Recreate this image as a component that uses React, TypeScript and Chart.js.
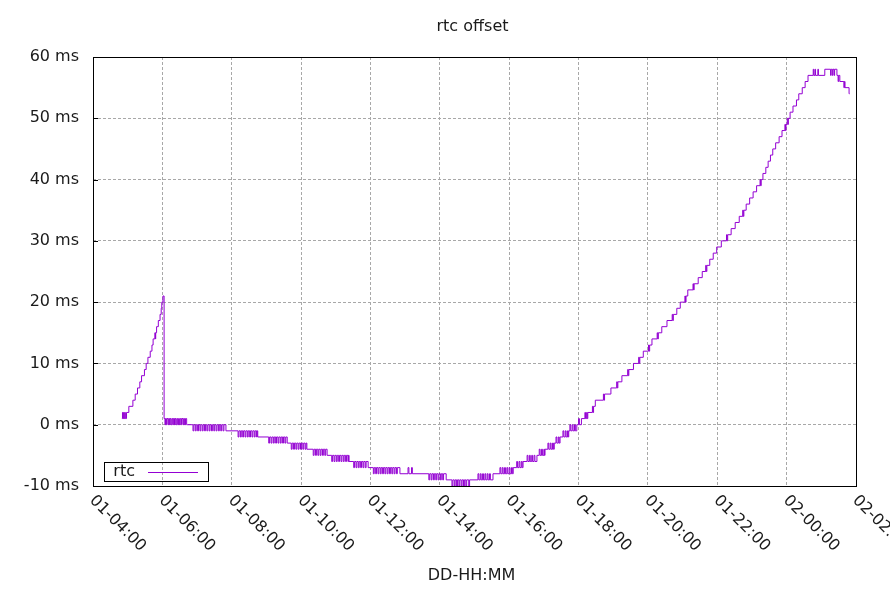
import React, { useEffect, useRef } from "react";
import { Chart, registerables } from "chart.js";

Chart.register(...registerables);

const TITLE = "rtc offset";
const X_TITLE = "DD-HH:MM";
const SERIES_LABEL = "rtc";
const SERIES_COLOR = "#9400d3";
const FONT = "DejaVu Sans";
const TEXT_COLOR = "#1a1a1a";

// x values are minutes after 01-04:00
const xTickMinutes = [0, 120, 240, 360, 480, 600, 720, 840, 960, 1080, 1200, 1320];
const xTickLabels = [
  "01-04:00", "01-06:00", "01-08:00", "01-10:00", "01-12:00", "01-14:00",
  "01-16:00", "01-18:00", "01-20:00", "01-22:00", "02-00:00", "02-02:00",
];
const yMin = -10;
const yMax = 60;
const yStep = 10;

// [minute, offset ms]
const riseSamples: [number, number][] = [
  [50, 1], [51, 2], [52, 1], [53, 2], [54, 1], [55, 2], [56, 1], [58, 2], [62, 3], [69, 4],
  [73, 5], [77, 6], [81, 7], [84, 8], [89, 9], [92, 10], [95, 11], [99, 12], [102, 13],
  [104, 14], [107, 15], [108, 14], [108.5, 15], [110, 16], [113, 17], [116, 18], [118, 19],
  [119, 20], [121, 21],
];

const plateauSamples: [number, number][] = [
  [123, 1], [124.5, 0], [125.5, 1], [127, 0], [128, 1], [130, 0], [131, 1], [132.5, 0],
  [133.5, 1], [135, 0], [136.5, 1], [138, 0], [139, 1], [141, 0], [142, 1], [143.5, 0],
  [145, 1], [146.5, 0], [148, 1], [149.5, 0], [151, 1], [153, 0], [154, 1], [156, 0],
  [157, 1], [158.5, 0], [160, 1], [162, 0],
];

const declineSamples: [number, number][] = [
  [163, 0],
  [173, -1], [174.5, 0], [177, -1], [178.5, 0], [181, -1], [182.5, 0], [185, -1], [186.5, 0],
  [189, -1], [190.5, 0], [193, -1], [194.5, 0], [197, -1], [198.5, 0], [201, -1], [202.5, 0],
  [205, -1], [206.5, 0], [209, -1], [210.5, 0], [213, -1], [214.5, 0], [217, -1], [218.5, 0],
  [221, -1], [222.5, 0], [225, -1], [226.5, 0], [230, -1],
  [251, -2], [252.5, -1], [255, -2], [256.5, -1], [259, -2], [260.5, -1], [263, -2], [264.5, -1],
  [267, -2], [268.5, -1], [271, -2], [272.5, -1], [275, -2], [276.5, -1], [279, -2], [280.5, -1],
  [283, -2], [284, -1], [285, -2],
  [304, -3], [305.5, -2], [308, -3], [309.5, -2], [312, -3], [313.5, -2], [316, -3], [317.5, -2],
  [320, -3], [321.5, -2], [324, -3], [325.5, -2], [328, -3], [329.5, -2], [332, -3], [333.5, -2],
  [336, -3],
  [343, -4], [344.5, -3], [347, -4], [348.5, -3], [351, -4], [352.5, -3], [355, -4], [356.5, -3],
  [359, -4], [360.5, -3], [363, -4], [364.5, -3], [367, -4], [368.5, -3], [370, -4],
  [381, -5], [382.5, -4], [385, -5], [386.5, -4], [389, -5], [390.5, -4], [393, -5], [394.5, -4],
  [397, -5], [398.5, -4], [401, -5], [402.5, -4], [405, -5],
  [413, -6], [414.5, -5], [417, -6], [418.5, -5], [421, -6], [422.5, -5], [425, -6], [426.5, -5],
  [429, -6], [430.5, -5], [433, -6], [434.5, -5], [437, -6], [438.5, -5], [441, -6], [442, -5],
  [443, -6],
  [451, -7], [452.5, -6], [455, -7], [456.5, -6], [459, -7], [460.5, -6], [463, -7], [464.5, -6],
  [467, -7], [468.5, -6], [471, -7], [472.5, -6], [476, -7],
  [485, -8], [486.5, -7], [489, -8], [490.5, -7], [493, -8], [494.5, -7], [497, -8], [498.5, -7],
  [501, -8], [502.5, -7], [505, -8], [506.5, -7], [509, -8], [510.5, -7], [513, -8], [514.5, -7],
  [517, -8], [518.5, -7], [521, -8], [522.5, -7], [525, -8], [526.5, -7], [531, -8],
  [545, -7], [546.5, -8], [551, -7], [552.5, -8],
  [581, -9], [582.5, -8], [585, -9], [586.5, -8], [589, -9], [590.5, -8], [593, -9], [594.5, -8],
  [597, -9], [598.5, -8], [601, -9], [602.5, -8], [605, -9], [606.5, -8], [611, -9],
  [621, -10], [622.5, -9], [625, -10], [626.5, -9], [629, -10], [630.5, -9], [633, -10],
  [634.5, -9], [637, -10], [638.5, -9], [641, -10], [642.5, -9], [645, -10], [646.5, -9],
  [650, -10], [651.5, -9],
  [666, -8], [667.5, -9], [670, -8], [671.5, -9], [674, -8], [675.5, -9], [678, -8], [679.5, -9],
  [682, -8], [683.5, -9], [686, -8], [687.5, -9], [692, -8],
];

const climbSamples: [number, number][] = [
  [704, -7], [705.5, -8], [708, -7], [709.5, -8], [712, -7], [713.5, -8], [716, -7], [717.5, -8],
  [720, -7], [721.5, -8], [724, -7], [725.5, -8], [727, -7],
  [733, -6], [734.5, -7], [737, -6], [738.5, -7], [741, -6], [742.5, -7], [744, -6],
  [751, -5], [752.5, -6], [755, -5], [756.5, -6], [759, -5], [760.5, -6], [763, -5], [764.5, -6],
  [768, -5],
  [772, -4], [773.5, -5], [776, -4], [777.5, -5], [780, -4], [781, -5], [782, -4],
  [787, -3], [788.5, -4], [791, -3], [792.5, -4], [795, -3], [796.5, -4], [798, -3],
  [801, -2], [802.5, -3], [805, -2], [806.5, -3], [808, -2],
  [813, -1], [814.5, -2], [817, -1], [818.5, -2], [821, -1], [822, -2], [823, -1],
  [825, 0], [826.5, -1], [829, 0], [830.5, -1], [833, 0], [834.5, -1], [837, 0],
  [840, 1], [841.5, 0], [845, 1],
  [851, 2], [852, 1], [854, 2], [855, 1], [856, 2],
  [864, 3], [865, 2], [866, 3], [869, 4], [883, 5], [884, 4], [885, 5], [896, 6], [906, 7],
  [907, 6], [908, 7], [915, 8], [925, 9], [926, 8], [927, 9], [935, 10], [944, 11], [945, 10],
  [946, 11], [952, 12], [961, 13], [962, 12], [963, 13], [967, 14], [976, 15], [977, 14],
  [978, 15], [984, 16], [993, 17], [1002, 18], [1003, 17], [1004, 18], [1010, 19], [1016, 20],
  [1024, 21], [1025, 20], [1026, 21], [1029, 22], [1038, 23], [1039, 22], [1040, 23],
  [1047, 24], [1054, 25], [1060, 26], [1061, 25], [1062, 26], [1067, 27], [1073, 28],
  [1079, 29], [1087, 30], [1096, 31], [1097, 30], [1098, 31], [1104, 32], [1111, 33],
  [1118, 34], [1124, 35], [1125, 34], [1126, 35], [1130, 36], [1136, 37], [1142, 38],
  [1148, 39], [1154, 40], [1155, 39], [1156, 40], [1159, 41], [1164, 42], [1168, 43],
  [1172, 44], [1176, 45], [1181, 46], [1187, 47], [1192, 48], [1197, 49], [1198, 48],
  [1199, 49], [1201, 50], [1202, 49], [1203, 50], [1206, 51], [1211, 52], [1217, 53],
  [1221, 54], [1227, 55], [1232, 56], [1237, 57],
];

const peakSamples: [number, number][] = [
  [1246, 58], [1247, 57], [1249, 58], [1250, 57], [1254, 58], [1255, 57], [1266, 58],
  [1276, 57], [1277, 58], [1279, 57], [1280, 58], [1282, 57], [1283, 58], [1287, 57],
  [1289, 56], [1290, 57], [1292, 56], [1299, 55], [1300, 56], [1301, 55], [1308, 54],
  [1309, 54],
];

export default function App() {
  const ref = useRef<HTMLCanvasElement>(null);

  useEffect(() => {
    if (!ref.current) return;
    const points = [
      ...riseSamples, ...plateauSamples, ...declineSamples, ...climbSamples, ...peakSamples,
    ].map(([x, y]) => ({ x, y }));

    const decor = {
      id: "decor",
      beforeDatasetsDraw(chart: any) {
        const { ctx, chartArea: a, scales } = chart;
        ctx.save();
        ctx.strokeStyle = "#000";
        ctx.lineWidth = 1;
        ctx.strokeRect(
          Math.round(a.left) + 0.5, Math.round(a.top) + 0.5,
          Math.round(a.right - a.left), Math.round(a.bottom - a.top)
        );
        ctx.beginPath();
        for (let v = yMin; v <= yMax; v += yStep) {
          const py = Math.round(scales.y.getPixelForValue(v)) + 0.5;
          ctx.moveTo(a.left, py);
          ctx.lineTo(a.left + 5, py);
        }
        ctx.stroke();
        ctx.restore();
      },
      afterDraw(chart: any) {
        const { ctx, chartArea: a, scales } = chart;
        const cx = (a.left + a.right) / 2;
        ctx.save();
        ctx.fillStyle = TEXT_COLOR;
        ctx.font = `16px "${FONT}"`;
        ctx.textAlign = "center";
        ctx.textBaseline = "middle";
        ctx.fillText(TITLE, cx - 2, 27);
        ctx.fillText(X_TITLE, cx - 3, 576);

        xTickMinutes.forEach((m, i) => {
          const px = scales.x.getPixelForValue(m);
          ctx.save();
          ctx.translate(px - 1, a.bottom + 12);
          ctx.rotate(Math.PI / 4);
          ctx.textAlign = "left";
          ctx.textBaseline = "middle";
          ctx.fillText(xTickLabels[i], 0, 0);
          ctx.restore();
        });

        // key box
        ctx.strokeStyle = "#000";
        ctx.lineWidth = 1;
        ctx.strokeRect(104.5, 462.5, 104, 19);
        ctx.textAlign = "right";
        ctx.fillText(SERIES_LABEL, 135, 472);
        ctx.strokeStyle = chart.data.datasets[0].borderColor;
        ctx.beginPath();
        ctx.moveTo(148, 472.5);
        ctx.lineTo(198, 472.5);
        ctx.stroke();
        ctx.restore();
      },
    };

    const chart = new Chart(ref.current, {
      type: "line",
      data: {
        datasets: [
          {
            label: SERIES_LABEL,
            data: points,
            borderColor: SERIES_COLOR,
            borderWidth: 1,
            pointRadius: 0,
            stepped: true,
            fill: false,
          },
        ],
      },
      options: {
        animation: false,
        responsive: false,
        layout: { padding: { top: 57, right: 34, bottom: 0, left: 0 } },
        plugins: {
          legend: { display: false },
          title: { display: false },
          tooltip: { enabled: false },
        },
        scales: {
          x: {
            type: "linear",
            min: 0,
            max: 1320,
            ticks: { stepSize: 120, display: false },
            grid: { color: "#a8a8a8", lineWidth: 1, drawTicks: false },
            border: { display: false, dash: [3, 2] },
            afterFit: (s: any) => { s.height = 104; },
          },
          y: {
            min: yMin,
            max: yMax,
            ticks: {
              stepSize: yStep,
              padding: 14,
              color: TEXT_COLOR,
              font: { family: FONT, size: 16 },
              callback: (v: any) => `${v} ms`,
            },
            grid: { color: "#a8a8a8", lineWidth: 1, drawTicks: false },
            border: { display: false, dash: [3, 2] },
            afterFit: (s: any) => { s.width = 93; },
          },
        },
      },
      plugins: [decor],
    });
    return () => chart.destroy();
  }, []);

  return (
    <div style={{ position: "fixed", left: 0, top: 0, width: 890, height: 590, background: "#fff" }}>
      <canvas ref={ref} width={890} height={590} style={{ display: "block" }} />
    </div>
  );
}
